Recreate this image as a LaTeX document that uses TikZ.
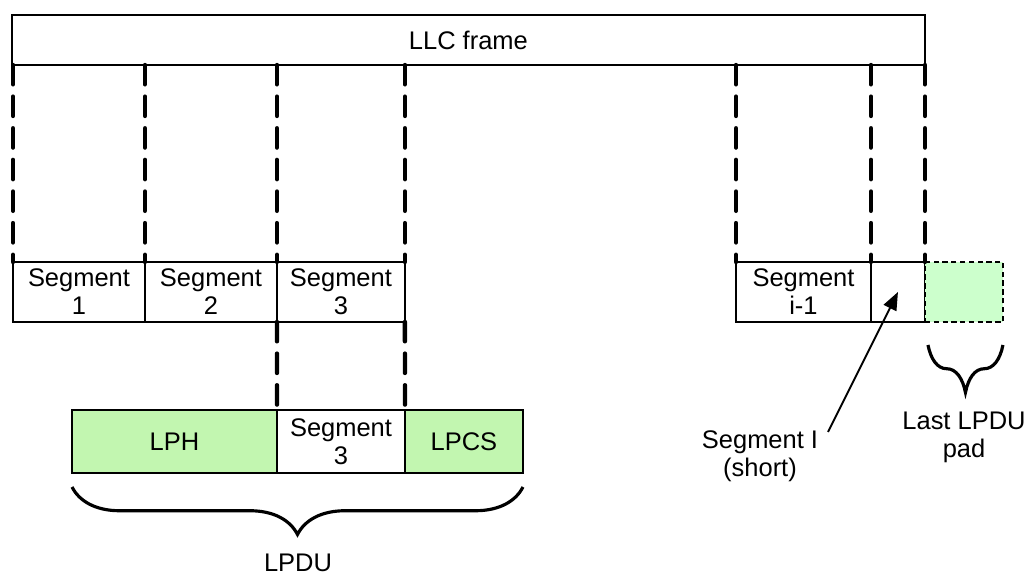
\documentclass[tikz,border=0pt]{standalone}
\usepackage{fontspec}
\setmainfont{Liberation Sans}
\usepackage{tikz}
\usetikzlibrary{arrows.meta,positioning,calc,decorations.pathreplacing}
\usepackage{xcolor}
\definecolor{lpdugreen}{RGB}{194,246,176}
\definecolor{padgreen}{RGB}{204,255,204}
\tikzset{
  framebox/.style={draw=black,line width=1.4pt,inner sep=0pt,outer sep=0pt,
                   minimum height=1cm,align=center,anchor=north west},
  segbox/.style={draw=black,line width=1.4pt,inner sep=0pt,outer sep=0pt,
                 minimum height=1.2cm,align=center,anchor=north west},
  hdrbox/.style={segbox,fill=lpdugreen,minimum height=1.26cm},
  padbox/.style={segbox,fill=padgreen,dash pattern=on 3pt off 2pt},
  cut/.style={line width=2.5pt,dash pattern=on 11pt off 7pt,line cap=round},
  grp/.style={decorate,decoration={brace,mirror,amplitude=0.95cm},line width=1.8pt},
  ptr/.style={-{Triangle[length=3.6mm,width=2.8mm]},line width=1.1pt},
  ghost/.style={draw=none,fill=none,inner sep=1pt,align=center},
}

\begin{document}
\begin{tikzpicture}[x=0.02cm,y=-0.02cm,font=\fontsize{14.5}{16}\selectfont]
  \useasboundingbox (0,0) rectangle (1027,577);
  \node[framebox,minimum width=18.26cm] (llc) at (12,15) {LLC frame};
  \node[segbox,minimum width=2.64cm] (seg1) at (13,262) {Segment\\1};
  \node[segbox,minimum width=2.64cm,right=0pt of seg1] (seg2) {Segment\\2};
  \node[segbox,minimum width=2.56cm,right=0pt of seg2] (seg3) {Segment\\3};
  \node[segbox,minimum width=2.7cm] (segim) at (736,262) {Segment\\i-1};
  \node[segbox,minimum width=1.08cm,right=0pt of segim] (short) {};
  \node[padbox,minimum width=1.56cm,right=0pt of short] (pad) {};
  \node[hdrbox,minimum width=2.56cm,fill=white] (lseg) at (277,410) {Segment\\3};
  \node[hdrbox,minimum width=4.1cm,left=0pt of lseg] (lph) {LPH};
  \node[hdrbox,minimum width=2.36cm,right=0pt of lseg] (lpcs) {LPCS};
  \foreach \n/\a in {seg1/west,seg2/west,seg3/west,seg3/east,segim/west,segim/east,short/east}
    \draw[cut] (\n.north \a |- llc.south) -- (\n.north \a);
  \draw[cut] (seg3.south west) -- (lseg.north west);
  \draw[cut] (seg3.south east) -- (lseg.north east);
  \draw[grp] ($(lph.south west)+(0,14)$) -- ($(lpcs.south east)+(0,14)$);
  \node[ghost] (lpdu) at (298,563) {LPDU};
  \draw[grp] ($(pad.south west)+(3,23)$) -- ($(pad.south east)+(0,23)$);
  \node[ghost] (padlbl) at (964,437) {Last LPDU\\pad};
  \node[ghost] (shortlbl) at (760,456) {Segment I\\(short)};
  \coordinate (shorttail) at (828,432);
  \draw[ptr] (shorttail) -- (short.center);
\end{tikzpicture}
\end{document}
